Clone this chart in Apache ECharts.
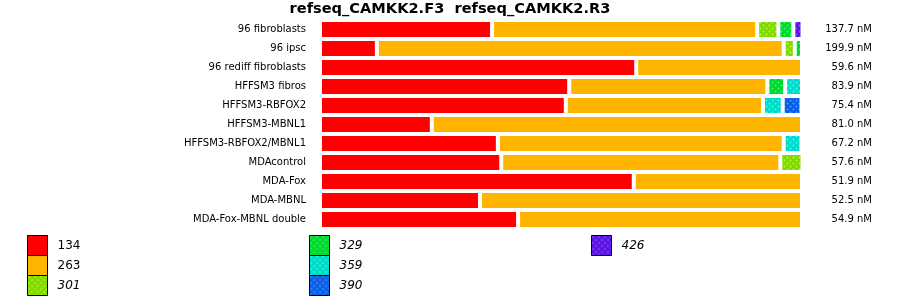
<!DOCTYPE html>
<html>
<head>
<meta charset="utf-8">
<script src="https://cdn.jsdelivr.net/npm/echarts@6/dist/echarts.min.js"></script>
<style>html,body{margin:0;padding:0;background:#fff}#c{width:900px;height:299px}</style>
</head>
<body>
<div id="c"></div>
<script>
const titleText = 'refseq_CAMKK2.F3  refseq_CAMKK2.R3';
const categories = ['96 fibroblasts','96 ipsc','96 rediff fibroblasts','HFFSM3 fibros','HFFSM3-RBFOX2','HFFSM3-MBNL1','HFFSM3-RBFOX2/MBNL1','MDAcontrol','MDA-Fox','MDA-MBNL','MDA-Fox-MBNL double'];
const concLabels = ['137.7 nM','199.9 nM','59.6 nM','83.9 nM','75.4 nM','81.0 nM','67.2 nM','57.6 nM','51.9 nM','52.5 nM','54.9 nM'];
const seriesNames = ['134','263','301','329','359','390','426'];
// percent of each row
const s134 = [35.7, 11.8, 65.6, 51.7, 51.0, 23.2, 36.9, 37.6, 65.1, 33.2, 41.1];
const s263 = [55.0, 84.4, 34.4, 41.1, 40.9, 76.8, 59.3, 57.9, 34.9, 66.8, 58.9];
const s301 = [4.4, 2.3, null, null, null, null, null, 4.6, null, null, null];
const s329 = [3.1, 1.5, null, 3.7, null, null, null, null, null, null, null];
const s359 = [null, null, null, 3.5, 4.1, null, 3.7, null, null, null, null];
const s390 = [null, null, null, null, 3.9, null, null, null, null, null, null];
const s426 = [1.9, null, null, null, null, null, null, null, null, null, null];
const seriesData = [s134, s263, s301, s329, s359, s390, s426];

function makePattern(base, light) {
  const c = document.createElement('canvas');
  c.width = 6; c.height = 6;
  const g = c.getContext('2d');
  g.fillStyle = base; g.fillRect(0, 0, 6, 6);
  g.fillStyle = light;
  g.fillRect(0, 1, 3, 1); g.fillRect(1, 0, 1, 3);
  g.fillRect(3, 4, 3, 1); g.fillRect(4, 3, 1, 3);
  return { image: c, repeat: 'repeat' };
}
const colors = [
  '#ff0000',
  '#ffb400',
  makePattern('#80d800', '#a0f020'),
  makePattern('#00d630', '#28f040'),
  makePattern('#00d8c8', '#28f0e0'),
  makePattern('#0a5ce0', '#2e84ff'),
  makePattern('#5a10e0', '#7c3cff')
];
const italic = {'134': false, '263': false};
const FONT = 'DejaVu Sans';

function legendFor(names, left) {
  return {
    left: left, top: 235, orient: 'vertical', padding: 0, itemGap: -1,
    itemWidth: 20, itemHeight: 20, icon: 'rect',
    itemStyle: { borderColor: '#000', borderWidth: 1 },
    selectedMode: false,
    textStyle: { fontFamily: FONT, fontSize: 12, color: '#000', padding: [0, 0, 0, 5] },
    data: names.map(n => ({ name: n, textStyle: { fontStyle: italic[n] === false ? 'normal' : 'italic' } }))
  };
}

const chart = echarts.init(document.getElementById('c'), null, { renderer: 'canvas' });
chart.setOption({
  animation: false,
  backgroundColor: '#fff',
  title: {
    text: titleText, left: 'center', top: 2, padding: 0,
    textStyle: { fontFamily: FONT, fontSize: 14.6, fontWeight: 'bold', color: '#000' }
  },
  legend: [
    legendFor(['134', '263', '301'], 27),
    legendFor(['329', '359', '390'], 309),
    legendFor(['426'], 591)
  ],
  grid: { left: 320, right: 98, top: 20, bottom: 70, containLabel: false },
  xAxis: { type: 'value', min: 0, max: 100, show: false },
  yAxis: [
    {
      type: 'category', data: categories, inverse: true,
      axisLine: { show: false }, axisTick: { show: false }, splitLine: { show: false },
      axisLabel: { fontFamily: FONT, fontSize: 10, color: '#000', margin: 14 }
    },
    {
      type: 'category', data: concLabels, inverse: true, position: 'right',
      axisLine: { show: false }, axisTick: { show: false }, splitLine: { show: false },
      axisLabel: { fontFamily: FONT, fontSize: 10, color: '#000', margin: 70, align: 'right' }
    }
  ],
  series: seriesNames.map((n, i) => ({
    name: n, type: 'bar', stack: 'all', yAxisIndex: 0,
    barWidth: '100%', barCategoryGap: 0,
    data: seriesData[i],
    itemStyle: { color: colors[i], borderColor: '#fff', borderWidth: 2 },
    emphasis: { disabled: true }
  }))
});
</script>
</body>
</html>
